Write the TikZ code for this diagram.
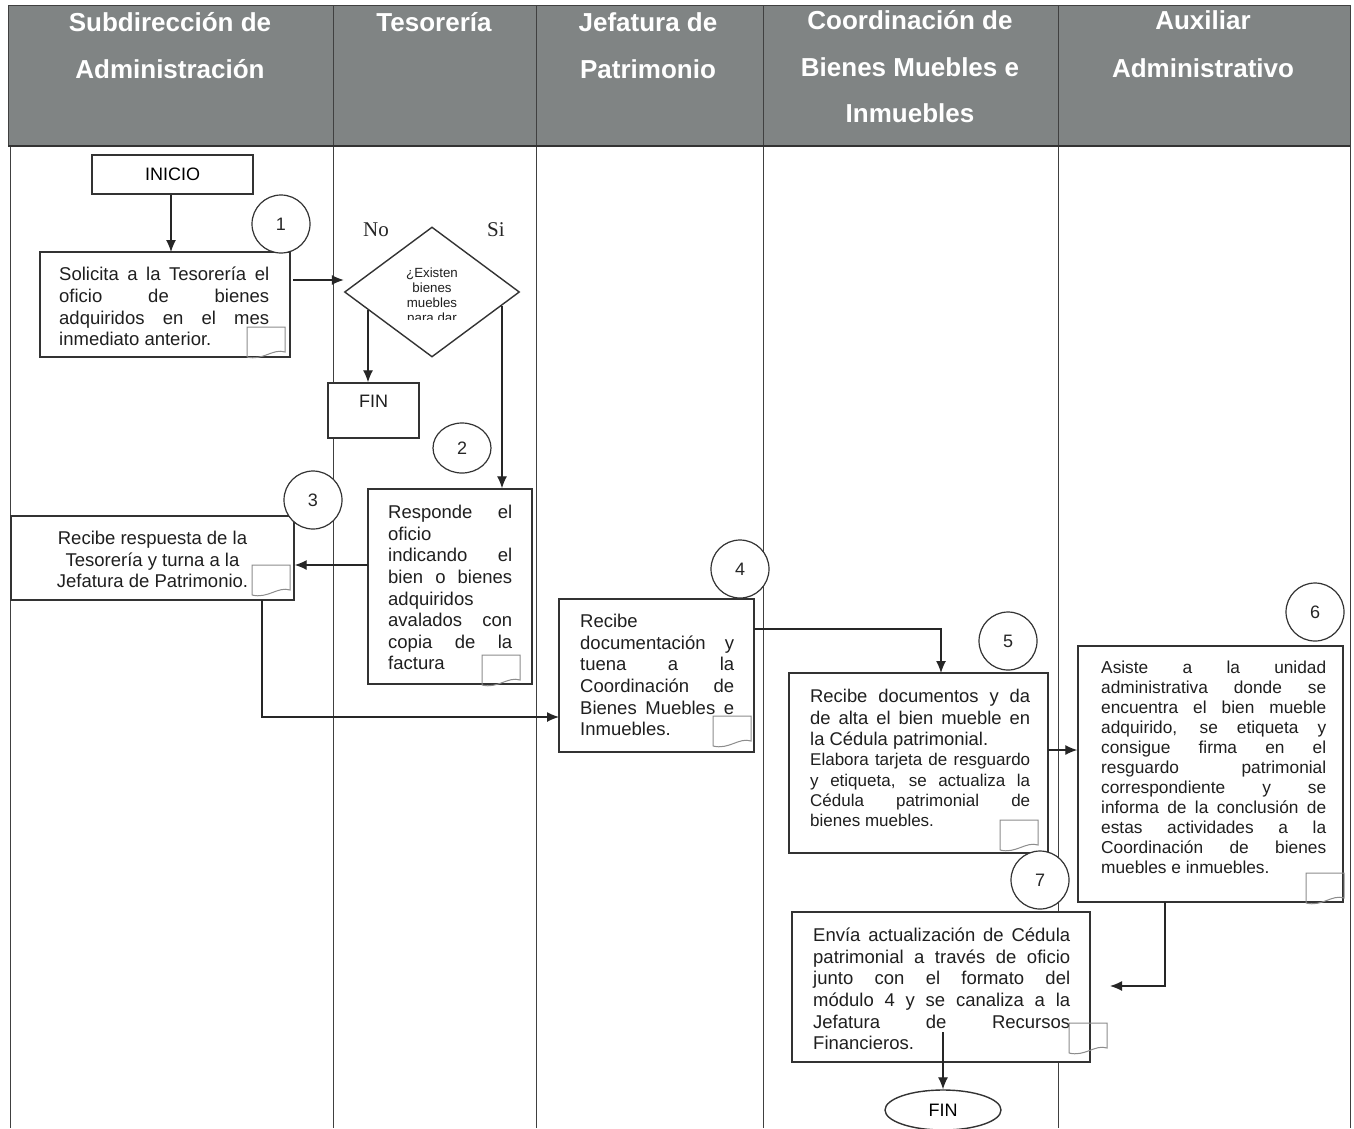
\documentclass[tikz,border=0pt]{standalone}
\usepackage{fontspec}
\setmainfont{Liberation Sans}
\newfontfamily\serifnf{Liberation Serif}
\usetikzlibrary{arrows.meta,shapes.geometric}
\newlength\jw
\newcommand\tset[1]{\setlength\jw{#1}\spaceskip=0pt\xspaceskip=0pt\relax}
\newcommand\jl[1]{\makebox[\jw][s]{\spaceskip=.278em plus 1fil\xspaceskip=.278em plus 1fil\relax#1}}
\definecolor{hdrgray}{RGB}{128,132,132}
\begin{document}
\begin{tikzpicture}[x=1pt,y=-1pt,
  lane/.style={draw=black!75, line width=1pt},
  box/.style={draw=black!80, line width=1.4pt, fill=white, rectangle, inner sep=0pt},
  txt/.style={inner sep=0pt, anchor=north west, align=flush left, text=black!88},
  num/.style={circle, draw=black!80, line width=1.2pt, fill=white, minimum size=58pt, inner sep=0pt, text=black!85, font=\fontsize{18}{20}\selectfont},
  arr/.style={draw=black!85, line width=1.3pt, -{Latex[length=12pt,width=10pt]}},
  hdr/.style={anchor=north, align=flush center, text=white, inner sep=0pt, font=\fontsize{26}{47}\selectfont\bfseries},
  docic/.pic={\draw[draw=black!45, line width=1pt] (0,30) -- (0,0) -- (38,0) -- (38,25) .. controls (26,21) and (16,34) .. (0,30);}
]
\useasboundingbox (0,0) rectangle (1354,1128);
\fill[white] (0,0) rectangle (1354,1128);
% header
\fill[hdrgray] (8,5) rectangle (1350,146);
\draw[lane] (8,5) rectangle (1350,146);
\draw[lane] (10,146) -- (10,1128);
\draw[lane] (1350,146) -- (1350,1128);
\foreach \xx in {333,536,763,1058} \draw[lane] (\xx,5) -- (\xx,1128);
\draw[line width=1.6pt, black!80] (8,146) -- (1350,146);

\node[hdr, text width=320pt] (h1) at (170,-1.5) {\strut Subdirección de\\Administración};
\node[hdr, text width=200pt] (h2) at (434,-1.5) {\strut Tesorería};
\node[hdr, text width=225pt] (h3) at (648,-1.5) {\strut Jefatura de\\Patrimonio};
\node[hdr, text width=290pt, font=\fontsize{26}{46.5}\selectfont\bfseries] (h4) at (910,-3.1) {\strut Coordinación de\\Bienes Muebles e\\Inmuebles};
\node[hdr, text width=290pt, font=\fontsize{26}{48}\selectfont\bfseries] (h5) at (1203,-4.5) {\strut Auxiliar\\Administrativo};

% boxes
\node[box, minimum width=161pt, minimum height=39pt, font=\fontsize{18}{21}\selectfont] (inicio) at (172.5,174.5) {INICIO};
\node[box, minimum width=250pt, minimum height=105pt] (b1) at (165,304.5) {};
\node[box, minimum width=91pt, minimum height=55pt] (fin1) at (373.5,410.5) {};
\node[box, minimum width=164pt, minimum height=195pt] (b2) at (450,586.5) {};
\node[box, minimum width=283pt, minimum height=84pt] (b3) at (152.5,558) {};
\node[box, minimum width=195pt, minimum height=153pt] (b4) at (656.5,675.5) {};
\node[box, minimum width=259pt, minimum height=180pt] (b5) at (918.5,763) {};
\node[box, minimum width=265pt, minimum height=256pt] (b6) at (1210.5,774) {};
\node[box, minimum width=298pt, minimum height=150pt] (b7) at (941,987) {};
\node[ellipse, draw=black!80, line width=1.4pt, fill=white, minimum width=116pt, minimum height=40pt, inner sep=0pt, font=\fontsize{18}{21}\selectfont] (fin2) at (943,1110) {FIN};

% diamond
\node[diamond, draw=black!80, line width=1.4pt, fill=white, minimum width=175pt, minimum height=130pt, inner sep=0pt] (dia) at (432,292) {};
\begin{scope}
\clip (344,200) rectangle (519,319.5);
\node[inner sep=0pt, anchor=north, align=flush center, text width=90pt, text=black!88, font=\fontsize{13.3}{15}\selectfont] (dtext) at (432,267.2) {\strut ¿Existen\\bienes\\muebles\\para dar};
\end{scope}
\node[inner sep=0pt, text=black!85, font=\serifnf\fontsize{21}{24}\selectfont] (no) at (376,230) {No};
\node[inner sep=0pt, text=black!85, font=\serifnf\fontsize{21}{24}\selectfont] (si) at (496,230) {Si};

% texts
\node[inner sep=0pt, text=black!88, font=\fontsize{18}{21}\selectfont] (fin1t) at (373.5,401) {FIN};
\node[txt, text width=210pt, font=\fontsize{18.5}{21.7}\selectfont] (t1) at (59,265.3) {\tset{210pt}\strut\jl{Solicita a la Tesorería el}\\\jl{oficio de bienes}\\\jl{adquiridos en el mes}\\inmediato anterior.};
\node[txt, text width=124pt, font=\fontsize{18.5}{21.6}\selectfont] (t2) at (388,503.4) {\tset{124pt}\strut\jl{Responde el}\\oficio\\\jl{indicando el}\\\jl{bien o bienes}\\adquiridos\\\jl{avalados con}\\\jl{copia de la}\\factura};
\node[txt, anchor=north, align=flush center, text width=270pt, font=\fontsize{18.5}{21.5}\selectfont] (t3) at (152.5,529.4) {\strut Recibe respuesta de la\\Tesorería y turna a la\\Jefatura de Patrimonio.};
\node[txt, text width=154pt, font=\fontsize{18.5}{21.6}\selectfont] (t4) at (580,612.4) {\tset{154pt}\strut Recibe\\\jl{documentación y}\\\jl{tuena a la}\\\jl{Coordinación de}\\\jl{Bienes Muebles e}\\Inmuebles.};
\node[txt, text width=220pt] (t5) at (810,687.4) {\tset{220pt}{\fontsize{18.4}{21.5}\selectfont\strut\jl{Recibe documentos y da}\\\jl{de alta el bien mueble en}\\la Cédula patrimonial.\par}{\fontsize{17}{20.3}\selectfont\jl{Elabora tarjeta de resguardo}\\\jl{y etiqueta, se actualiza la}\\\jl{Cédula patrimonial de}\\bienes muebles.\par}};
\node[txt, text width=225pt, font=\fontsize{17.3}{20}\selectfont] (t6) at (1101,659) {\tset{225pt}\strut\jl{Asiste a la unidad}\\\jl{administrativa donde se}\\\jl{encuentra el bien mueble}\\\jl{adquirido, se etiqueta y}\\\jl{consigue firma en el}\\\jl{resguardo patrimonial}\\\jl{correspondiente y se}\\\jl{informa de la conclusión de}\\\jl{estas actividades a la}\\\jl{Coordinación de bienes}\\muebles e inmuebles.};
\node[txt, text width=257pt, font=\fontsize{18.5}{21.6}\selectfont] (t7) at (813,926.4) {\tset{257pt}\strut\jl{Envía actualización de Cédula}\\\jl{patrimonial a través de oficio}\\\jl{junto con el formato del}\\\jl{módulo 4 y se canaliza a la}\\\jl{Jefatura de Recursos}\\Financieros.};

% document icons
\pic at (247,327) {docic};
\pic at (482,655) {docic};
\pic at (252,565) {docic};
\pic at (713,716) {docic};
\pic at (1000,820) {docic};
\pic at (1306,873) {docic};
\pic at (1069,1023) {docic};

% connectors
\coordinate (a1s) at (293,280);
\coordinate (dno) at (368,310);
\coordinate (dsi) at (502,306);
\coordinate (p23) at (368,565);
\coordinate (p34) at (262,600);
\coordinate (p34b) at (559,717);
\coordinate (p45) at (754,629);
\coordinate (p45b) at (941,673);
\coordinate (p56) at (1048,750);
\coordinate (p67) at (1165,902);
\coordinate (p67b) at (1110,986);
\coordinate (p7f) at (943,1032);
\draw[arr] (inicio.south -| 171,0) -- (171,252);
\draw[arr] (a1s) -- (a1s -| dia.west);
\draw[arr] (dno) -- (dno |- fin1.north);
\draw[arr] (dsi) -- (dsi |- b2.north);
\draw[arr] (p23) -- (p23 -| b3.east);
\draw[arr] (p34) |- (p34b);
\draw[arr] (p45) -| (p45b);
\draw[arr] (p56) -- (p56 -| b6.west);
\draw[arr] (p67) |- (p67b);
\draw[arr] (p7f) -- (p7f |- fin2.north);

% numbered circles
\node[num] (c1) at (281,224) {1};
\node[num, minimum width=58pt, minimum height=50pt, ellipse] (c2) at (462,448) {2};
\node[num] (c3) at (313,500) {3};
\node[num] (c4) at (740,569) {4};
\node[num] (c5) at (1008,641) {5};
\node[num] (c6) at (1315,612) {6};
\node[num] (c7) at (1040,880) {7};
\end{tikzpicture}
\end{document}
